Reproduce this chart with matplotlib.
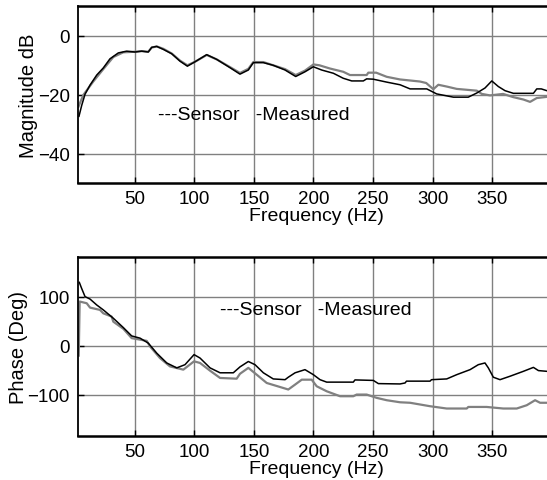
import matplotlib
matplotlib.use("Agg")
import matplotlib.pyplot as plt

# (frequency Hz, value)
MAG_SENSOR = [
    (3.4, -27.3), (5.7, -23.6), (8.5, -19.8), (12.7, -16.7), (18.3, -13.3), (23.8, -10.9),
    (29.4, -7.8), (36.4, -5.8), (43.4, -5.2), (50.4, -5.5), (56.0, -5.2), (61.5, -5.5),
    (64.4, -3.9), (68.6, -3.6), (74.1, -4.6), (81.2, -6.1), (88.1, -8.6), (94.3, -10.3),
    (100.7, -8.8), (110.5, -6.4), (118.9, -8.0), (130.0, -10.8), (138.4, -13.0), (145.4, -11.6),
    (149.6, -9.1), (158.0, -9.1), (166.3, -10.0), (176.2, -11.6), (185.1, -13.8), (192.9, -12.2),
    (199.9, -10.5), (206.9, -11.6), (216.7, -12.7), (225.0, -14.4), (232.1, -15.3), (241.8, -15.3),
    (244.6, -14.6), (250.0, -14.7), (261.4, -15.7), (272.6, -16.6), (281.0, -18.0), (295.0, -18.0),
    (303.3, -19.7), (317.3, -20.8), (329.8, -20.8), (336.9, -19.4), (343.8, -17.7), (349.5, -15.3),
    (355.0, -17.2), (360.6, -18.6), (367.6, -19.5), (384.4, -19.5), (387.2, -18.0), (391.0, -18.0),
    (395.6, -18.6), (402.0, -18.6),
]
MAG_MEASURED = [
    (3.0, -24.0), (7.0, -20.1), (15.4, -15.5), (23.8, -11.3), (32.2, -7.2), (40.6, -5.6),
    (50.4, -5.4), (56.0, -5.2), (61.5, -5.4), (64.4, -4.0), (68.6, -3.6), (74.1, -4.4),
    (81.2, -6.0), (88.1, -8.4), (94.3, -10.0), (100.7, -8.8), (110.5, -6.5), (118.9, -8.0),
    (130.0, -10.6), (138.4, -12.6), (145.4, -11.2), (149.6, -8.9), (158.0, -8.9), (166.3, -10.0),
    (176.2, -11.3), (185.1, -13.3), (192.9, -11.8), (200.0, -9.7), (205.0, -10.0), (213.9, -11.1),
    (225.0, -12.2), (230.6, -13.3), (244.6, -13.3), (246.0, -12.5), (252.6, -12.5), (261.4, -13.9),
    (272.6, -14.8), (289.3, -15.5), (294.5, -16.0), (300.5, -18.1), (304.7, -16.6), (311.7, -17.2),
    (320.1, -18.0), (336.9, -18.6), (341.1, -19.7), (348.0, -20.2), (359.0, -19.7), (367.6, -20.8),
    (376.0, -21.6), (381.6, -22.4), (387.2, -21.1), (395.6, -20.7), (402.0, -20.7),
]
PHASE_SENSOR = [
    (3.7, 129), (5.6, 117), (8.5, 100), (12.7, 95), (18.3, 83), (23.8, 73), (32.2, 56),
    (40.6, 37), (47.6, 20), (54.6, 15.5), (61.5, 5.4), (68.6, -15), (77.0, -35), (85.4, -45),
    (92.3, -38.5), (99.9, -18), (104.9, -25), (113.3, -45), (121.7, -55), (132.8, -55),
    (138.4, -43), (145.4, -32), (151.0, -38.5), (158.0, -55), (166.3, -67.5), (176.2, -69),
    (178.9, -64), (184.6, -55), (192.9, -48.6), (199.9, -58.8), (205.5, -69), (211.1, -74),
    (233.4, -74), (234.8, -69.5), (250.2, -70.5), (254.4, -77), (272.6, -77.7), (276.8, -75.7),
    (278.0, -72), (297.7, -72), (299.0, -69), (311.7, -67.5), (320.1, -58.8), (331.3, -48.6),
    (338.2, -38.5), (343.8, -35), (346.6, -45), (350.8, -64), (356.4, -69), (364.8, -62),
    (376.0, -52), (384.4, -44), (388.6, -50.5), (395.6, -52), (402.0, -52),
]
PHASE_MEASURED = [
    (3.2, -20), (4.0, 90), (9.9, 86.5), (12.7, 77.6), (21.0, 73), (23.8, 66), (30.8, 59.4),
    (32.2, 49), (40.6, 34.5), (47.6, 15.5), (60.2, 10), (63.0, -1.4), (71.3, -25), (79.7, -42),
    (90.9, -48.6), (99.9, -31.7), (104.9, -35), (113.3, -50.7), (121.7, -65.5), (135.6, -67),
    (138.4, -57), (145.4, -45), (152.4, -58.8), (160.8, -75.7), (178.9, -89), (184.6, -79),
    (190.2, -69), (198.5, -69), (202.7, -82.4), (211.1, -92.6), (222.3, -102.7), (233.4, -102.7),
    (236.2, -99.3), (244.6, -99.3), (253.0, -106), (261.4, -110.8), (272.6, -115), (281.0, -116),
    (297.7, -123), (311.7, -127.7), (328.5, -127.7), (329.8, -124.5), (345.2, -124.5),
    (359.2, -127.7), (370.4, -127.7), (378.8, -121), (385.8, -110.8), (390.0, -116), (402.0, -116),
]

X_TICKS = [50, 100, 150, 200, 250, 300, 350]
MAG_TICKS = [0, -20, -40]
PHASE_TICKS = [100, 0, -100]
LEGEND_TEXT = "---Sensor   -Measured"

plt.rcParams["font.family"] = ["Liberation Sans", "DejaVu Sans"]

W, H = 547, 481
fig = plt.figure(figsize=(W / 100, H / 100), dpi=100)


def _axes(top_px, bottom_px):
    left_px, right_px = 78.3, 555.0
    return fig.add_axes([left_px / W, (H - bottom_px) / H,
                         (right_px - left_px) / W, (bottom_px - top_px) / H])


def _style(ax, yticks, ylim, ylabel):
    ax.set_xlim(2.85, 402.5)
    ax.set_ylim(*ylim)
    ax.set_xticks(X_TICKS)
    ax.set_yticks(yticks)
    ax.grid(True, color="#808080", linewidth=1.0)
    ax.set_axisbelow(True)
    ax.tick_params(direction="in", length=4, width=1, labelsize=13.5,
                   top=True, right=True, color="black")
    ax.tick_params(axis="x", pad=5)
    ax.tick_params(axis="y", pad=6)
    for side in ("top", "bottom"):
        ax.spines[side].set_linewidth(1.8)
    ax.spines["left"].set_linewidth(1.3)
    ax.spines["right"].set_visible(False)
    ax.set_xlabel("Frequency (Hz)", fontsize=14, labelpad=0)
    ax.set_ylabel(ylabel, fontsize=14.5)
    ax.yaxis.set_label_coords(-0.085, 0.5)


def _plot(ax, measured, sensor):
    ax.plot([p[0] for p in measured], [p[1] for p in measured],
            color="#808080", linewidth=1.6)
    ax.plot([p[0] for p in sensor], [p[1] for p in sensor],
            color="black", linewidth=1.1)


ax1 = _axes(7.3, 184.3)
_plot(ax1, MAG_MEASURED, MAG_SENSOR)
_style(ax1, MAG_TICKS, (-50, 10), "Magnitude dB")
ax1.text(70, -26.6, LEGEND_TEXT, fontsize=14, va="center", ha="left")

ax2 = _axes(258.3, 436.7)
_plot(ax2, PHASE_MEASURED, PHASE_SENSOR)
_style(ax2, PHASE_TICKS, (-183, 180), "Phase (Deg)")
ax2.yaxis.set_label_coords(-0.105, 0.5)
ax2.text(122, 73, LEGEND_TEXT, fontsize=14, va="center", ha="left")

fig.savefig("out.png", dpi=100)
